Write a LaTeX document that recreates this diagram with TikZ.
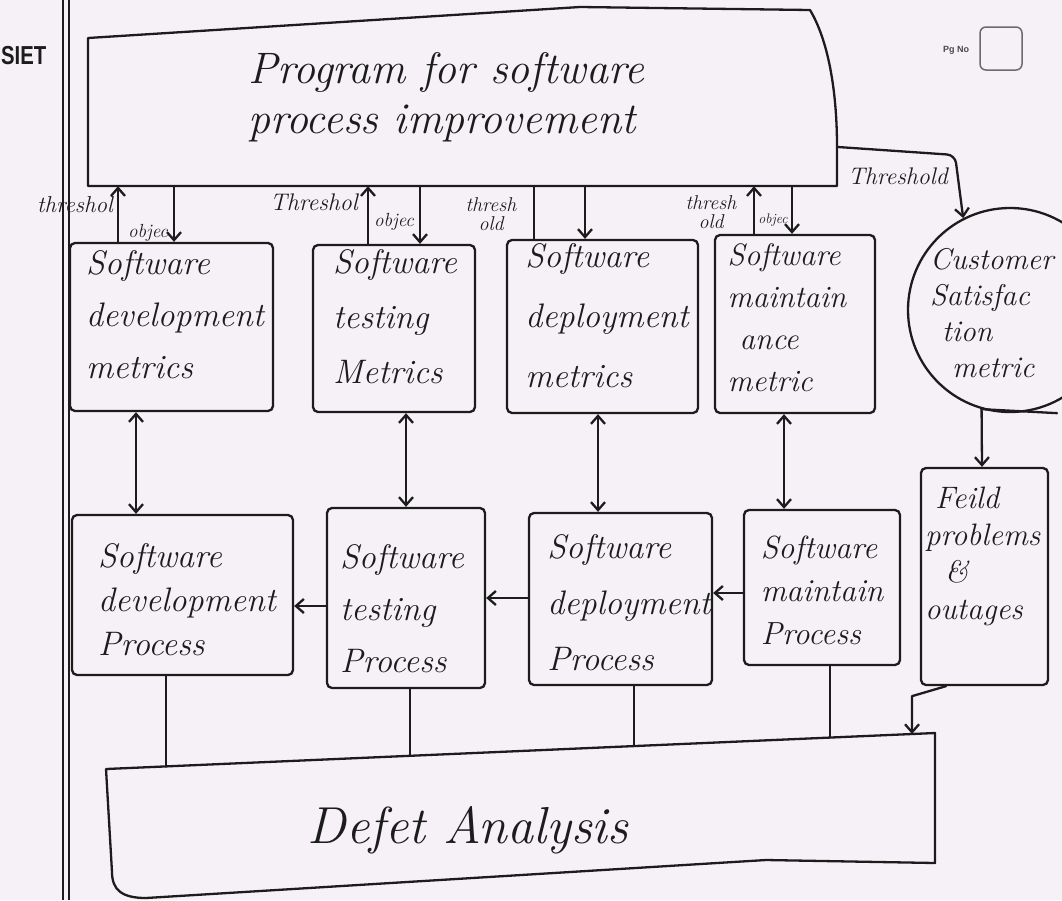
\documentclass[tikz,border=0pt]{standalone}
\usepackage{fontspec}
\setsansfont{Liberation Sans}
\usetikzlibrary{arrows.meta,calc}
\definecolor{paper}{HTML}{F6F1F6}
\definecolor{ink}{HTML}{1C1C1C}
\begin{document}
\begin{tikzpicture}[x=1pt,y=-1pt,
  line/.style={draw=ink,line width=2.3pt,line cap=round,line join=round},
  arr/.style={line,-{Straight Barb[length=8pt,width=14pt]}},
  darr/.style={line,{Straight Barb[length=8pt,width=14pt]}-{Straight Barb[length=8pt,width=14pt]}},
  box/.style={line,rectangle,rounded corners=5pt,inner sep=0pt},
  txt/.style 2 args={font=\fontsize{#1}{#2}\selectfont\itshape,text=ink,inner sep=0pt,align=left},
  lbl/.style={font=\fontsize{#1}{#1}\selectfont\itshape,text=ink,inner sep=0pt,align=center},
  lbltwo/.style={font=\fontsize{20}{19}\selectfont\itshape,text=ink,inner sep=0pt,align=center}
]
\useasboundingbox (0,0) rectangle (1062,900);
\fill[paper] (0,0) rectangle (1062,900);
\clip (0,0) rectangle (1062,900);

% page margin marks
\draw[ink,line width=1.6pt] (63,0) -- (63,900);
\draw[ink,line width=1.6pt] (69,0) -- (69,900);
\node[font=\sffamily\bfseries\fontsize{26}{26}\selectfont,text=ink,anchor=west,inner sep=0pt] (siet) at (1,56) {\scalebox{0.78}[1]{SIET}};
\node[font=\sffamily\bfseries\fontsize{9}{9}\selectfont,text=ink!80,inner sep=0pt] (pg) at (956,50) {Pg No};
\node[draw=ink!65,line width=1.5pt,rounded corners=6pt,minimum width=42pt,minimum height=43pt,inner sep=0pt] (pgbox) at (1001,48.5) {};

% top box
\node[minimum width=749pt,minimum height=178pt,inner sep=0pt] (T) at (462.5,97) {};
\draw[line] (88,186) -- (88,38) -- (580,7) -- (810,10) .. controls (828,40) and (837,90) .. (837,147) -- (837,186) -- cycle;
\node[txt={44}{50}] (Tt) at (446,97) {Program for software\\process improvement};

% metric boxes
\node[box,minimum width=203pt,minimum height=168pt] (A1) at (171.5,327) {};
\node[box,minimum width=162pt,minimum height=167pt] (A2) at (394,328.5) {};
\node[box,minimum width=191pt,minimum height=173pt] (A3) at (602.5,326.5) {};
\node[box,minimum width=160pt,minimum height=178pt] (A4) at (795,324) {};
\node[line,circle,minimum size=204pt,inner sep=0pt] (C) at (1010,310) {};

\node[txt={34}{52}] (A1t) at (175,315) {Software\\development\\metrics};
\node[txt={34}{55}] (A2t) at (395,317) {Software\\testing\\Metrics};
\node[txt={34}{60}] (A3t) at (607,316) {Software\\deployment\\metrics};
\node[txt={31}{42}] (A4t) at (787,318) {Software\\maintain\\\hspace*{12pt}ance\\metric};
\node[txt={30}{36},anchor=west] (Ct) at (930,313) {Customer\\Satisfac\\\hspace*{12pt}tion\\\hspace*{22pt}metric};

% process boxes
\node[box,minimum width=221pt,minimum height=160pt] (B1) at (182.5,595) {};
\node[box,minimum width=158pt,minimum height=180pt] (B2) at (406,598) {};
\node[box,minimum width=183pt,minimum height=172pt] (B3) at (620.5,599) {};
\node[box,minimum width=156pt,minimum height=155pt] (B4) at (822,587.5) {};
\node[box,minimum width=127pt,minimum height=217pt] (F) at (984.5,576.5) {};

\node[txt={34}{44}] (B1t) at (187,600) {Software\\development\\Process};
\node[txt={34}{52}] (B2t) at (402,609) {Software\\testing\\Process};
\node[txt={34}{56}] (B3t) at (629,603) {Software\\deployment\\Process};
\node[txt={32}{43}] (B4t) at (822,590) {Software\\maintain\\Process};
\node[txt={31}{37},anchor=west] (Ft) at (925,556) {\hspace*{10pt}Feild\\problems\\\hspace*{20pt}\&\\outages};

% defect analysis box
\coordinate (Dtl) at (106,769);
\coordinate (Dtr) at (935,733);
\draw[line] (Dtl) -- (Dtr) -- (935,863) -- (766,860) -- (146,898) .. controls (122,898) and (112,890) .. (112,872) -- (Dtl);
\node[txt={52}{52}] (D) at (468,830) {Defet Analysis};

% guide coordinates
\coordinate (g1u) at (118,0); \coordinate (g1d) at (174,0);
\coordinate (g2u) at (368,0); \coordinate (g2d) at (420,0);
\coordinate (g3u) at (534,0); \coordinate (g3d) at (585,0);
\coordinate (g4u) at (754,0); \coordinate (g4d) at (792,0);
\coordinate (v1) at (136,0); \coordinate (v2) at (406,0);
\coordinate (v3) at (598,0); \coordinate (v4) at (784,0);
\coordinate (vc) at (982,0); \coordinate (vf) at (946,0);
\coordinate (h43) at (0,593); \coordinate (h32) at (0,598); \coordinate (h21) at (0,606);
\coordinate (e1) at ($(Dtl)!0.0724!(Dtr)$);
\coordinate (e2) at ($(Dtl)!0.3667!(Dtr)$);
\coordinate (e3) at ($(Dtl)!0.6369!(Dtr)$);
\coordinate (e4) at ($(Dtl)!0.8734!(Dtr)$);
\coordinate (e5) at ($(Dtl)!0.9723!(Dtr)$);

% top box <-> metric boxes
\draw[arr] (g1u |- A1.north) -- (g1u |- T.south);
\draw[arr] (g1d |- T.south) -- (g1d |- A1.north);
\draw[arr] (g2u |- A2.north) -- (g2u |- T.south);
\draw[arr] (g2d |- T.south) -- (g2d |- A2.north);
\draw[line] (g3u |- A3.north) -- (g3u |- T.south);
\draw[arr] (g3d |- T.south) -- (g3d |- A3.north);
\draw[arr] (g4u |- A4.north) -- (g4u |- T.south);
\draw[arr] (g4d |- T.south) -- (g4d |- A4.north);
\draw[arr,rounded corners=8pt] ($(T.north east)!0.78!(T.south east)$) -- (955,155) -- (C.117);

\node[lbl=23] (l1t) at (75,205) {threshol};
\node[lbl=19] (l1o) at (148,233) {objec};
\node[lbl=24] (l2t) at (314,202) {Threshol};
\node[lbl=19] (l2o) at (394,222) {objec};
\node[lbltwo] (l3t) at (491,214) {thresh\\old};
\node[lbltwo] (l4t) at (711,212) {thresh\\old};
\node[lbl=14] (l4o) at (773,220) {objec};
\node[lbl=24] (lT) at (898,176) {Threshold};

% metric <-> process
\draw[darr] (v1 |- A1.south) -- (v1 |- B1.north);
\draw[darr] (v2 |- A2.south) -- (v2 |- B2.north);
\draw[darr] (v3 |- A3.south) -- (v3 |- B3.north);
\draw[darr] (v4 |- A4.south) -- (v4 |- B4.north);
\draw[arr] (C.-106) -- (vc |- F.north);
\draw[line] (C.-106) -- ([xshift=47pt]C.south);

% process chain
\draw[arr] (B4.west |- h43) -- (B3.east |- h43);
\draw[arr] (B3.west |- h32) -- (B2.east |- h32);
\draw[arr] (B2.west |- h21) -- (B1.east |- h21);

% to defect analysis
\draw[line] (B1.south -| e1) -- (e1);
\draw[line] (B2.south -| e2) -- (e2);
\draw[line] (B3.south -| e3) -- (e3);
\draw[line] (B4.south -| e4) -- (e4);
\draw[arr] (vf |- F.south) -- ++(-34,10) -- (e5);
\end{tikzpicture}
\end{document}
